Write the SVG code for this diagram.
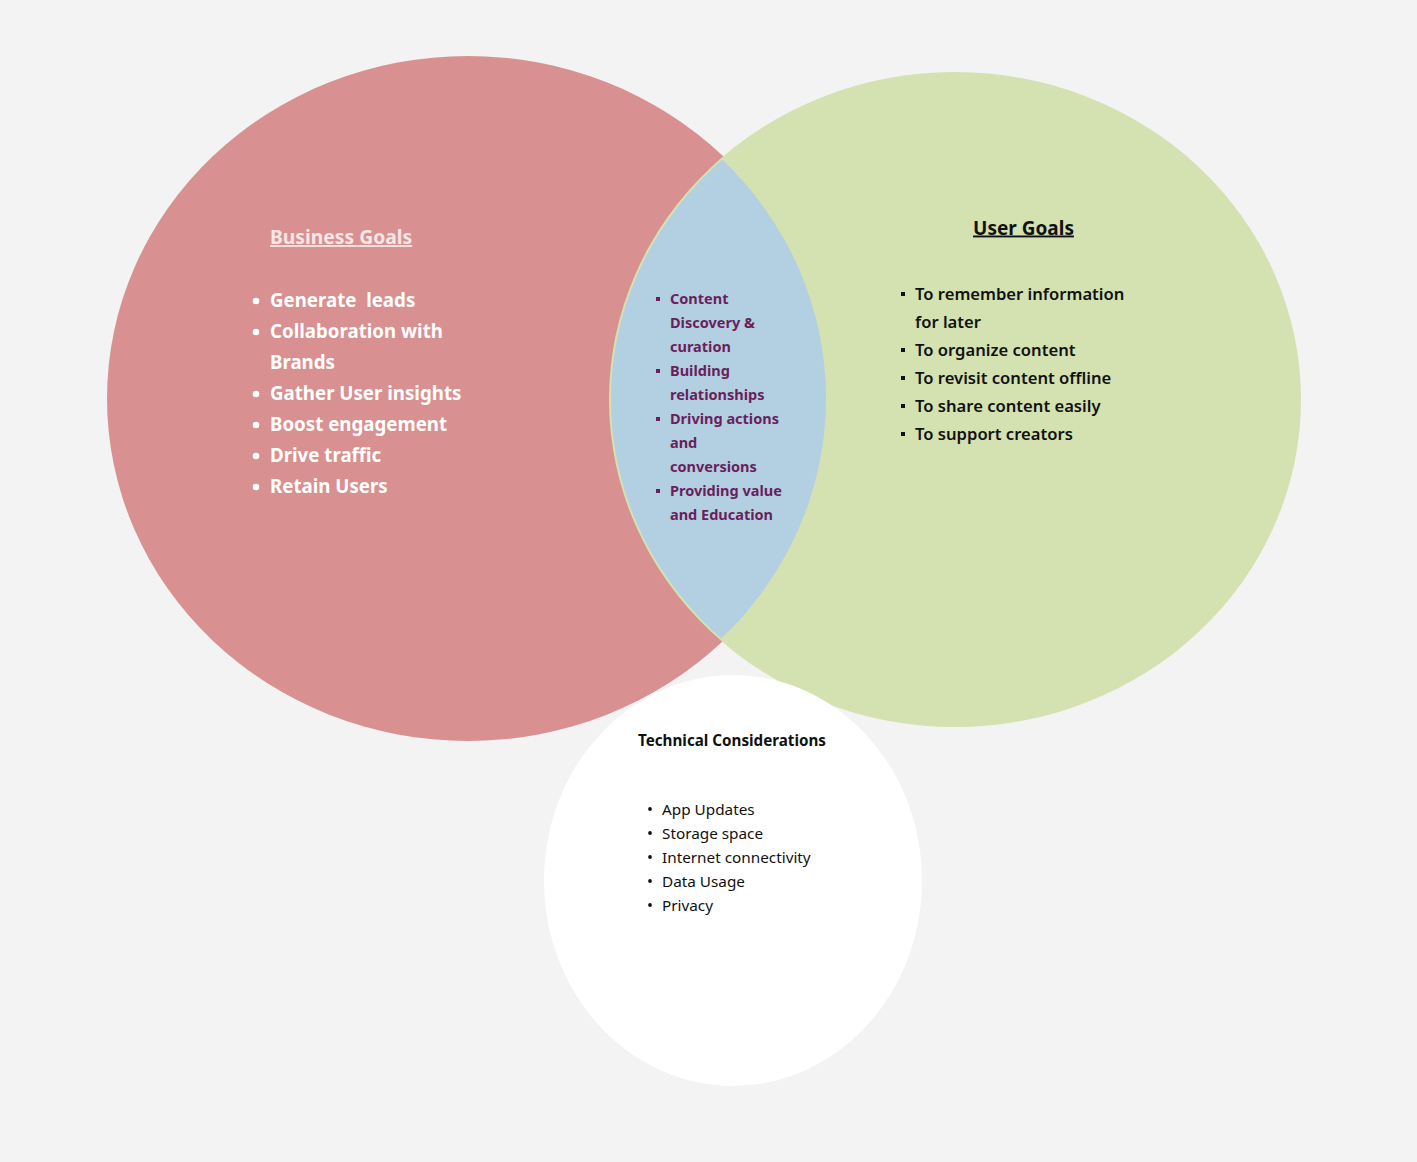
<svg xmlns="http://www.w3.org/2000/svg" width="1417" height="1162" viewBox="0 0 1417 1162">
<defs>
<style>
text{font-family:"Noto Sans","Open Sans","DejaVu Sans",sans-serif;white-space:pre;}
.biz{font-size:18.7px;font-weight:700;fill:#ffffff;}
.bizt{font-size:19.3px;font-weight:700;fill:#f7e6e6;text-decoration:underline;}
.mid{font-size:14.5px;font-weight:700;fill:#6a1f5c;}
.usr{font-size:16.6px;font-weight:600;fill:#111111;}
.usrt{font-size:19px;font-weight:700;fill:#111111;text-decoration:underline;}
.tech{font-size:15.3px;font-weight:400;fill:#111111;}
.techt{font-size:15.2px;font-weight:700;fill:#111111;}
</style>
<clipPath id="greenClip"><ellipse cx="955" cy="399.5" rx="344" ry="325.5"/></clipPath>
</defs>
<rect x="0" y="0" width="1417" height="1162" fill="#f3f3f3"/>
<g id="business">
<ellipse cx="468" cy="398.5" rx="361" ry="342.5" fill="#d89190"/>
</g>
<g id="user">
<ellipse cx="955" cy="399.5" rx="346" ry="327.5" fill="#d3e2b0"/>
</g>
<g id="overlap">
<ellipse cx="468" cy="398.5" rx="358" ry="339.5" fill="#b3cfe2" clip-path="url(#greenClip)"/>
</g>
<g id="technical">
<ellipse cx="733" cy="880.5" rx="189" ry="205.5" fill="#ffffff"/>
</g>
<g id="connectors"></g>
<g id="business-text">
<text class="bizt" x="270" y="244">Business Goals</text>
<circle cx="256" cy="301" r="3.3" fill="#fff"/><text class="biz" x="270" y="307">Generate  leads</text>
<circle cx="256" cy="332" r="3.3" fill="#fff"/><text class="biz" x="270" y="338">Collaboration with</text>
<text class="biz" x="270" y="369">Brands</text>
<circle cx="256" cy="394" r="3.3" fill="#fff"/><text class="biz" x="270" y="400">Gather User insights</text>
<circle cx="256" cy="425" r="3.3" fill="#fff"/><text class="biz" x="270" y="431">Boost engagement</text>
<circle cx="256" cy="456" r="3.3" fill="#fff"/><text class="biz" x="270" y="462">Drive traffic</text>
<circle cx="256" cy="487" r="3.3" fill="#fff"/><text class="biz" x="270" y="493">Retain Users</text>
</g>
<g id="overlap-text">
<rect x="656" y="297" width="4" height="4" fill="#6a1f5c"/><text class="mid" x="670" y="304">Content</text>
<text class="mid" x="670" y="328">Discovery &amp;</text>
<text class="mid" x="670" y="352">curation</text>
<rect x="656" y="369" width="4" height="4" fill="#6a1f5c"/><text class="mid" x="670" y="376">Building</text>
<text class="mid" x="670" y="400">relationships</text>
<rect x="656" y="417" width="4" height="4" fill="#6a1f5c"/><text class="mid" x="670" y="424">Driving actions</text>
<text class="mid" x="670" y="448">and</text>
<text class="mid" x="670" y="472">conversions</text>
<rect x="656" y="489" width="4" height="4" fill="#6a1f5c"/><text class="mid" x="670" y="496">Providing value</text>
<text class="mid" x="670" y="520">and Education</text>
</g>
<g id="user-text">
<text class="usrt" x="1023.5" y="234.5" text-anchor="middle">User Goals</text>
<rect x="901" y="292" width="4" height="4" fill="#111"/><text class="usr" x="915" y="300">To remember information</text>
<text class="usr" x="915" y="328">for later</text>
<rect x="901" y="348" width="4" height="4" fill="#111"/><text class="usr" x="915" y="356">To organize content</text>
<rect x="901" y="376" width="4" height="4" fill="#111"/><text class="usr" x="915" y="384">To revisit content offline</text>
<rect x="901" y="404" width="4" height="4" fill="#111"/><text class="usr" x="915" y="412">To share content easily</text>
<rect x="901" y="432" width="4" height="4" fill="#111"/><text class="usr" x="915" y="440">To support creators</text>
</g>
<g id="technical-text">
<text class="techt" x="732" y="745.5" text-anchor="middle">Technical Considerations</text>
<circle cx="650" cy="809" r="1.9" fill="#111"/><text class="tech" x="662" y="814.5">App Updates</text>
<circle cx="650" cy="833" r="1.9" fill="#111"/><text class="tech" x="662" y="838.5">Storage space</text>
<circle cx="650" cy="857" r="1.9" fill="#111"/><text class="tech" x="662" y="862.5">Internet connectivity</text>
<circle cx="650" cy="881" r="1.9" fill="#111"/><text class="tech" x="662" y="886.5">Data Usage</text>
<circle cx="650" cy="905" r="1.9" fill="#111"/><text class="tech" x="662" y="910.5">Privacy</text>
</g>
</svg>
